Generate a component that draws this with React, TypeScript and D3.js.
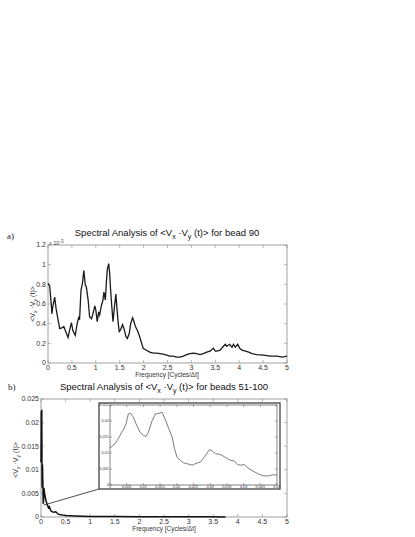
import React from 'react';
import * as d3 from 'd3';

// panel a: spectrum for bead 90 (values in units of 1e-3)
const aFreq = [0, 0.035, 0.07, 0.08, 0.1, 0.14, 0.17, 0.21, 0.245, 0.3, 0.33, 0.37, 0.42, 0.45, 0.49, 0.52, 0.57, 0.61, 0.64, 0.66, 0.69, 0.72, 0.75, 0.78, 0.8, 0.84, 0.87, 0.91, 0.94, 0.98, 1.0, 1.03, 1.06, 1.08, 1.12, 1.15, 1.17, 1.2, 1.22, 1.24, 1.27, 1.29, 1.31, 1.34, 1.36, 1.39, 1.42, 1.44, 1.47, 1.49, 1.52, 1.56, 1.59, 1.63, 1.66, 1.7, 1.73, 1.77, 1.8, 1.83, 1.87, 1.91, 1.96, 1.99, 2.06, 2.13, 2.2, 2.27, 2.34, 2.41, 2.48, 2.55, 2.62, 2.69, 2.76, 2.83, 2.9, 2.97, 3.04, 3.11, 3.18, 3.25, 3.32, 3.39, 3.46, 3.5, 3.53, 3.6, 3.67, 3.71, 3.74, 3.8, 3.85, 3.88, 3.92, 3.97, 4.01, 4.06, 4.13, 4.2, 4.27, 4.37, 4.51, 4.65, 4.79, 4.9, 5.0];
const aPower = [0.81, 0.78, 0.59, 0.5, 0.57, 0.67, 0.55, 0.44, 0.35, 0.36, 0.37, 0.32, 0.26, 0.33, 0.41, 0.33, 0.28, 0.4, 0.46, 0.44, 0.74, 0.81, 0.94, 0.79, 0.78, 0.64, 0.47, 0.45, 0.5, 0.58, 0.54, 0.42, 0.52, 0.49, 0.59, 0.64, 0.72, 0.64, 0.81, 0.95, 1.01, 0.91, 0.74, 0.54, 0.42, 0.57, 0.7, 0.57, 0.4, 0.32, 0.34, 0.39, 0.35, 0.27, 0.25, 0.3, 0.4, 0.46, 0.42, 0.37, 0.33, 0.28, 0.2, 0.15, 0.13, 0.11, 0.1, 0.1, 0.095, 0.09, 0.08, 0.07, 0.07, 0.06, 0.06, 0.07, 0.085, 0.095, 0.1, 0.095, 0.085, 0.095, 0.11, 0.12, 0.15, 0.12, 0.12, 0.13, 0.17, 0.19, 0.17, 0.19, 0.16, 0.19, 0.16, 0.19, 0.15, 0.13, 0.12, 0.11, 0.095, 0.085, 0.08, 0.07, 0.07, 0.06, 0.07];

// panel b inset: low-frequency part, 0 - 0.05
const insetFreq = [0, 0.0015, 0.0025, 0.0035, 0.0042, 0.0048, 0.0055, 0.0062, 0.007, 0.008, 0.009, 0.01, 0.0108, 0.0115, 0.0126, 0.0136, 0.0146, 0.0156, 0.0166, 0.0176, 0.0186, 0.0193, 0.0201, 0.0211, 0.0221, 0.0236, 0.0246, 0.0256, 0.0271, 0.0283, 0.0291, 0.0298, 0.0306, 0.0316, 0.0331, 0.0346, 0.0361, 0.0372, 0.0382, 0.0392, 0.0402, 0.0412, 0.0427, 0.0442, 0.0457, 0.0472, 0.0487, 0.05];
const insetPower = [0.0116, 0.0129, 0.0145, 0.0165, 0.0176, 0.0191, 0.0222, 0.0224, 0.0212, 0.0186, 0.0165, 0.0155, 0.0152, 0.0165, 0.0201, 0.0222, 0.0224, 0.0227, 0.0204, 0.0176, 0.015, 0.0114, 0.0086, 0.0077, 0.0069, 0.0065, 0.0062, 0.0067, 0.0072, 0.0088, 0.01, 0.0111, 0.0106, 0.0098, 0.0095, 0.0086, 0.0077, 0.0075, 0.0064, 0.0062, 0.0064, 0.0054, 0.0044, 0.0036, 0.0029, 0.0028, 0.0032, 0.0031];

// panel b: remainder of the spectrum
const tailFreq = [0.06, 0.07, 0.08, 0.1, 0.12, 0.15, 0.17, 0.2, 0.25, 0.3, 0.35, 0.4, 0.45, 0.5, 0.6, 0.7, 0.85, 1.0, 1.2, 1.5, 2.0, 2.5, 3.0, 3.4, 3.75];
const tailPower = [0.0062, 0.0052, 0.0045, 0.0035, 0.0028, 0.002, 0.0022, 0.0013, 0.001, 0.0011, 0.0006, 0.0005, 0.0004, 0.0003, 0.00025, 0.0002, 0.00015, 0.0001, 0.0001, 0.00008, 0.00005, 0.00004, 0.00003, 0.00003, 0.00002];

const freqTicks = [0, 0.5, 1, 1.5, 2, 2.5, 3, 3.5, 4, 4.5, 5];
const aTicks = [0, 0.2, 0.4, 0.6, 0.8, 1, 1.2];
const bTicks = [0, 0.005, 0.01, 0.015, 0.02, 0.025];
const insetXTicks = [0, 0.005, 0.01, 0.015, 0.02, 0.025, 0.03, 0.035, 0.04, 0.045, 0.05];
const insetYTicks = [0, 0.005, 0.01, 0.015, 0.02, 0.025];

const FONT = 'Liberation Sans, Arial, sans-serif';
const AXIS = '#8a8a8a';

function Axes({ x, y, xTicks, yTicks, fs, tick, color, xLabelOff = 7, yLabelOff = 2 }) {
  const [x0, x1] = x.range();
  const [y0, y1] = y.range();
  return (
    <g>
      <rect x={x0} y={y1} width={x1 - x0} height={y0 - y1} fill="none" stroke={color} strokeWidth={0.8} />
      {xTicks.map(t => (
        <g key={'x' + t}>
          <line x1={x(t)} x2={x(t)} y1={y0} y2={y0 - tick} stroke={color} strokeWidth={0.6} />
          <line x1={x(t)} x2={x(t)} y1={y1} y2={y1 + tick} stroke={color} strokeWidth={0.6} />
          <text x={x(t)} y={y0 + xLabelOff} fontSize={fs} textAnchor="middle" fill="#333">{String(t)}</text>
        </g>
      ))}
      {yTicks.map(t => (
        <g key={'y' + t}>
          <line x1={x0} x2={x0 + tick} y1={y(t)} y2={y(t)} stroke={color} strokeWidth={0.6} />
          <line x1={x1} x2={x1 - tick} y1={y(t)} y2={y(t)} stroke={color} strokeWidth={0.6} />
          <text x={x0 - yLabelOff} y={y(t) + fs * 0.35} fontSize={fs} textAnchor="end" fill="#333">{String(t)}</text>
        </g>
      ))}
    </g>
  );
}

function VLabel({ x, y, fs }) {
  return (
    <text transform={`translate(${x},${y}) rotate(-90)`} fontSize={fs} textAnchor="middle" fill="#333">
      {'<V'}<tspan fontSize={fs * 0.75} dy={fs * 0.3}>x</tspan>
      <tspan dy={-fs * 0.3}>{' ·V'}</tspan><tspan fontSize={fs * 0.75} dy={fs * 0.3}>y</tspan>
      <tspan dy={-fs * 0.3}>{' (t)>'}</tspan>
    </text>
  );
}

function Title({ x, y, tail }) {
  return (
    <text x={x} y={y} fontSize={9.5} textAnchor="middle" fill="#111">
      {'Spectral Analysis of <V'}<tspan fontSize={7} dy={2.5}>x</tspan>
      <tspan dy={-2.5}>{' ·V'}</tspan><tspan fontSize={7} dy={2.5}>y</tspan>
      <tspan dy={-2.5}>{' (t)> ' + tail}</tspan>
    </text>
  );
}

export default function App() {
  const xa = d3.scaleLinear().domain([0, 5]).range([48, 287]);
  const ya = d3.scaleLinear().domain([0, 1.2]).range([363, 245]);
  const xb = d3.scaleLinear().domain([0, 5]).range([41, 287]);
  const yb = d3.scaleLinear().domain([0, 0.025]).range([517, 399]);
  const xi = d3.scaleLinear().domain([0, 0.05]).range([110, 277]);
  const yi = d3.scaleLinear().domain([0, 0.025]).range([485, 405]);

  const lineA = d3.line().x(d => xa(d[0])).y(d => ya(d[1]));
  const lineB = d3.line().x(d => xb(d[0])).y(d => yb(d[1]));
  const lineI = d3.line().x(d => xi(d[0])).y(d => yi(d[1]));

  const aData = aFreq.map((f, i) => [f, aPower[i]]);
  const insetData = insetFreq.map((f, i) => [f, insetPower[i]]);
  const bData = insetData.concat(tailFreq.map((f, i) => [f, tailPower[i]]));

  return (
    <svg width={415} height={537} style={{ position: 'absolute', left: 0, top: 0, background: '#fff' }} fontFamily={FONT}>
      {/* panel a */}
      <text x={7} y={239} fontSize={9} fontFamily="Liberation Serif, serif" fill="#222">a)</text>
      <Title x={167} y={236} tail="for bead 90" />
      <Axes x={xa} y={ya} xTicks={freqTicks} yTicks={aTicks} fs={7} tick={3} color={AXIS} />
      <text x={49} y={245} fontSize={5.5} fill="#444">x 10<tspan fontSize={4.5} dy={-2.5}>-3</tspan></text>
      <path d={lineA(aData)} fill="none" stroke="#1a1a1a" strokeWidth={1.3} />
      <VLabel x={35} y={304} fs={7} />
      <text x={167} y={377} fontSize={6.5} textAnchor="middle" fill="#333">Frequency [Cycles/Δt]</text>

      {/* panel b */}
      <text x={8} y={390} fontSize={9} fontFamily="Liberation Serif, serif" fill="#222">b)</text>
      <Title x={164} y={390} tail="for beads 51-100" />
      <Axes x={xb} y={yb} xTicks={freqTicks} yTicks={bTicks} fs={7} tick={3} color={AXIS} />
      <path d={lineB(bData)} fill="none" stroke="#111" strokeWidth={1.5} />
      <VLabel x={18} y={460} fs={7} />
      <text x={164} y={531} fontSize={6.5} textAnchor="middle" fill="#333">Frequency [Cycles/Δt]</text>

      {/* zoom connector and inset */}
      <line x1={xb(0.05)} y1={yb(0.0025)} x2={99} y2={489} stroke="#222" strokeWidth={0.8} />
      <rect x={99} y={403} width={181} height={86} fill="#fff" stroke="#444" strokeWidth={1.3} />
      <Axes x={xi} y={yi} xTicks={insetXTicks} yTicks={insetYTicks} fs={3.8} tick={2} color="#666" xLabelOff={3.2} yLabelOff={1} />
      <path d={lineI(insetData)} fill="none" stroke="#444" strokeWidth={0.7} />
    </svg>
  );
}
